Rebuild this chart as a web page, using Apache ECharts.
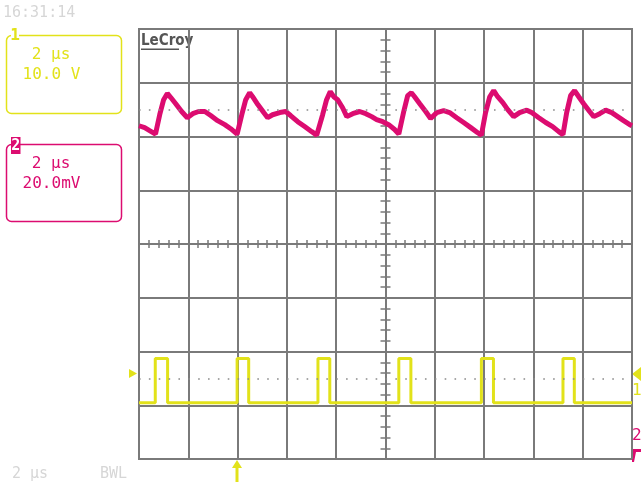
<!DOCTYPE html>
<html>
<head>
<meta charset="utf-8">
<script src="https://cdn.jsdelivr.net/npm/echarts@6/dist/echarts.min.js"></script>
<style>
html,body{margin:0;padding:0;background:#fff;}
#c{width:641px;height:482px;}
</style>
</head>
<body>
<div id="c"></div>
<script>
// ---- Channel 2 (pink): time in microseconds, value in mV relative to reference ----
const pinkTimeUs = [0.00,0.23,0.43,0.67,0.84,1.00,1.15,1.29,1.49,1.73,1.96,2.18,2.42,2.67,2.91,3.19,3.48,3.72,3.98,
  4.17,4.33,4.49,4.61,4.82,5.06,5.22,5.42,5.71,5.95,6.15,6.44,6.72,7.01,7.21,
  7.45,7.61,7.76,7.90,8.06,8.26,8.43,8.67,8.95,9.20,9.44,9.64,9.89,10.13,10.37,10.54,
  10.74,10.90,11.05,11.18,11.39,11.63,11.83,12.08,12.36,12.60,12.89,13.17,13.46,13.74,13.89,
  14.06,14.23,14.39,14.55,14.76,14.96,15.20,15.44,15.73,15.93,16.22,16.50,16.78,17.03,17.20,
  17.35,17.51,17.67,17.84,18.04,18.28,18.45,18.69,18.93,19.18,19.42,19.66,19.91,20.00];
const pinkMilliVolts = [-6.0,-6.7,-7.8,-9.1,-1.9,3.7,6.0,4.5,2.2,-0.7,-3.0,-1.5,-0.7,-0.7,-2.2,-4.1,-5.6,-7.1,-9.1,
  -1.9,3.7,6.3,4.8,1.9,-1.1,-3.0,-1.9,-1.1,-0.7,-2.2,-4.5,-6.3,-8.2,-9.5,
  -1.9,3.7,6.7,4.8,3.7,0.7,-2.6,-1.5,-0.7,-1.5,-2.6,-3.7,-4.5,-5.6,-7.4,-9.1,
  -0.7,5.2,6.3,4.8,2.2,-0.7,-3.3,-1.1,-0.4,-1.1,-3.0,-4.8,-6.7,-8.6,-9.5,
  -1.1,4.8,7.1,4.8,2.6,0.0,-2.6,-1.1,-0.2,-1.1,-3.0,-4.8,-6.3,-8.2,-9.3,
  -1.1,5.2,7.1,4.8,2.2,-0.7,-2.6,-1.5,-0.2,-1.1,-2.6,-4.1,-5.6,-6.0];
const pinkRefMv = 0;

// ---- Channel 1 (yellow): pulse train ----
const pulseStartUs = [0.66, 3.98, 7.26, 10.54, 13.89, 17.20];
const pulseEndUs   = [1.16, 4.45, 7.74, 11.03, 14.38, 17.66];
const yellowLowV = 0.45;
const yellowHighV = 8.7;
const yellowRefV = 4.9;
const timeStartUs = 0, timeEndUs = 20;

const PINK = '#dc0c70';
const YEL = '#e2e21a';
const GRID = '#7a7a7a';

const pinkData = pinkTimeUs.map((t, i) => [t, pinkMilliVolts[i]]);
const yellowData = [[timeStartUs, yellowLowV]];
pulseStartUs.forEach((s, i) => {
  yellowData.push([s, yellowLowV], [s, yellowHighV], [pulseEndUs[i], yellowHighV], [pulseEndUs[i], yellowLowV]);
});
yellowData.push([timeEndUs, yellowLowV]);

const chart = echarts.init(document.getElementById('c'), null, {renderer: 'canvas'});
const dotted = {color: '#8a8a8a', width: 1.6, type: [1.6, 8.26], dashOffset: 0};
const tickStyle = {color: GRID, width: 1.5};
const mono = '"DejaVu Sans Mono", monospace';

chart.setOption({
  animation: false,
  backgroundColor: '#fff',
  grid: {left: 139, right: 9, top: 29, bottom: 23, show: true, borderColor: GRID, borderWidth: 2, backgroundColor: '#fff'},
  xAxis: [
    {type: 'value', min: 0, max: 20, interval: 2, position: 'bottom',
     axisLine: {show: false}, axisTick: {show: false}, axisLabel: {show: false},
     splitLine: {show: true, lineStyle: {color: GRID, width: 2}}},
    {type: 'value', min: -5, max: 5, show: false, position: 'bottom'},
    {type: 'value', min: 0, max: 20, interval: 0.4, position: 'bottom',
     axisLine: {show: true, onZero: true, onZeroAxisIndex: 2, lineStyle: {color: GRID, width: 2}},
     axisTick: {show: true, inside: true, length: 4, lineStyle: tickStyle},
     axisLabel: {show: false}, splitLine: {show: false}},
    {type: 'value', min: 0, max: 20, interval: 0.4, position: 'bottom',
     axisLine: {show: true, onZero: true, onZeroAxisIndex: 2, lineStyle: {color: GRID, width: 2}},
     axisTick: {show: true, inside: false, length: 4, lineStyle: tickStyle},
     axisLabel: {show: false}, splitLine: {show: false}}
  ],
  yAxis: [
    {type: 'value', min: -10, max: 70, interval: 10, position: 'left',
     axisLine: {show: false}, axisTick: {show: false}, axisLabel: {show: false},
     splitLine: {show: true, lineStyle: {color: GRID, width: 2}}},
    {type: 'value', min: -130, max: 30, show: false, position: 'left'},
    {type: 'value', min: -4, max: 4, show: false, position: 'left'},
    {type: 'value', min: -4, max: 4, interval: 0.2, position: 'left',
     axisLine: {show: true, onZero: true, onZeroAxisIndex: 1, lineStyle: {color: GRID, width: 2}},
     axisTick: {show: true, inside: true, length: 5, lineStyle: tickStyle},
     axisLabel: {show: false}, splitLine: {show: false}},
    {type: 'value', min: -4, max: 4, interval: 0.2, position: 'left',
     axisLine: {show: true, onZero: true, onZeroAxisIndex: 1, lineStyle: {color: GRID, width: 2}},
     axisTick: {show: true, inside: false, length: 5, lineStyle: tickStyle},
     axisLabel: {show: false}, splitLine: {show: false}}
  ],
  series: [
    {type: 'line', name: 'CH1', xAxisIndex: 0, yAxisIndex: 0, data: yellowData,
     showSymbol: false, symbol: 'none', lineStyle: {color: YEL, width: 3}, z: 3,
     markLine: {silent: true, symbol: 'none', label: {show: false}, lineStyle: dotted,
       data: [{yAxis: yellowRefV}]}},
    {type: 'line', name: 'CH2', xAxisIndex: 0, yAxisIndex: 1, data: pinkData,
     showSymbol: false, symbol: 'none', lineStyle: {color: PINK, width: 5}, z: 4,
     markLine: {silent: true, symbol: 'none', label: {show: false}, lineStyle: dotted,
       data: [{yAxis: pinkRefMv}]}}
  ],
  graphic: [
    {type: 'text', style: {text: '16:31:14', x: 3, y: 13, font: '15px ' + mono, fill: '#d6d6d6', verticalAlign: 'middle'}},
    // channel 1 box
    {type: 'rect', shape: {x: 6.5, y: 35.5, width: 115, height: 78, r: 5}, style: {fill: 'none', stroke: YEL, lineWidth: 1.5}},
    {type: 'rect', shape: {x: 11, y: 29, width: 8, height: 14}, style: {fill: '#fff'}},
    {type: 'text', style: {text: '1', x: 15, y: 36, font: 'bold 16px ' + mono, fill: YEL, align: 'center', verticalAlign: 'middle'}},
    {type: 'text', style: {text: '2 μs', x: 51, y: 55, font: '16px ' + mono, fill: YEL, align: 'center', verticalAlign: 'middle'}},
    {type: 'text', style: {text: '10.0 V', x: 51.5, y: 75, font: '16px ' + mono, fill: YEL, align: 'center', verticalAlign: 'middle'}},
    // channel 2 box
    {type: 'rect', shape: {x: 6.5, y: 144.5, width: 115, height: 77, r: 5}, style: {fill: 'none', stroke: PINK, lineWidth: 1.5}},
    {type: 'rect', shape: {x: 11, y: 137, width: 9.5, height: 17}, style: {fill: PINK}},
    {type: 'text', style: {text: '2', x: 15.8, y: 146, font: 'bold 15px ' + mono, fill: '#fff', align: 'center', verticalAlign: 'middle'}},
    {type: 'text', style: {text: '2 μs', x: 51, y: 164, font: '16px ' + mono, fill: PINK, align: 'center', verticalAlign: 'middle'}},
    {type: 'text', style: {text: '20.0mV', x: 51.5, y: 183.5, font: '16px ' + mono, fill: PINK, align: 'center', verticalAlign: 'middle'}},
    // LeCroy logo
    {type: 'text', style: {text: 'LeCroy', x: 141, y: 41, font: 'bold 15px "DejaVu Sans Condensed", sans-serif', fill: '#555', verticalAlign: 'middle'}},
    {type: 'rect', shape: {x: 141, y: 48.5, width: 38, height: 1.6}, style: {fill: '#555'}},
    // bottom status
    {type: 'text', style: {text: '2 μs', x: 12, y: 474, font: '15px ' + mono, fill: '#d6d6d6', verticalAlign: 'middle'}},
    {type: 'text', style: {text: 'BWL', x: 100, y: 474, font: '15px ' + mono, fill: '#d6d6d6', verticalAlign: 'middle'}},
    // trigger arrow
    {type: 'polygon', shape: {points: [[237, 460], [232, 468], [242, 468]]}, style: {fill: YEL}},
    {type: 'rect', shape: {x: 235.5, y: 467, width: 3, height: 15}, style: {fill: YEL}},
    // left ch1 marker
    {type: 'polygon', shape: {points: [[129, 369], [137, 373.5], [129, 378]]}, style: {fill: YEL}},
    // right markers
    {type: 'polygon', shape: {points: [[641, 367], [632, 374], [641, 381]]}, style: {fill: YEL}},
    {type: 'text', style: {text: '1', x: 632, y: 391, font: '16px ' + mono, fill: YEL, verticalAlign: 'middle'}},
    {type: 'text', style: {text: '2', x: 632, y: 436, font: '16px ' + mono, fill: PINK, verticalAlign: 'middle'}},
    {type: 'polygon', shape: {points: [[632, 449], [641, 449], [641, 452], [636, 452], [634, 462], [632, 462]]}, style: {fill: PINK}}
  ]
});
</script>
</body>
</html>
